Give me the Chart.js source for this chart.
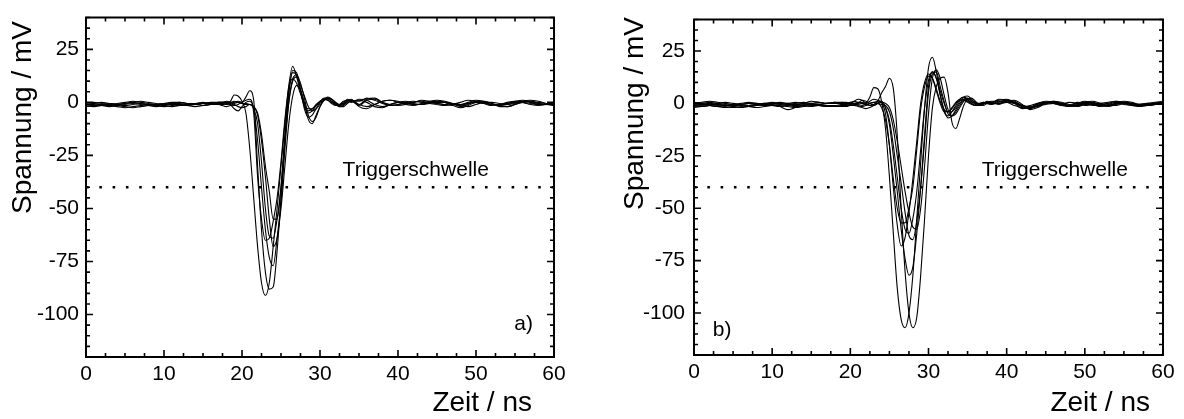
<!DOCTYPE html>
<html><head><meta charset="utf-8">
<script src="https://cdn.jsdelivr.net/npm/chart.js@4.4.1/dist/chart.umd.min.js"></script>
<style>
html,body{margin:0;padding:0;background:#fff;overflow:hidden;}
#wrap{position:relative;width:1184px;height:419px;background:#fff;}
canvas{position:absolute;top:0;}
#cA{left:0px} #cB{left:592px}
</style></head><body>
<div id="wrap"><canvas id="cA" width="592" height="419"></canvas><canvas id="cB" width="592" height="419"></canvas></div>
<script>
// ---------- data ----------
const xTickValues = [0, 10, 20, 30, 40, 50, 60];
const yTickValues = [-100, -75, -50, -25, 0, 25];
const triggerLevel = -40;

// panel a) sample times (ns)
const timeA = [0,1,2,3,4,5,6,7,8,9,10,11,12,13,14,15,16,17,
  17.5,18,18.5,19,19.5,20,20.5,21,21.5,22,22.5,23,23.5,24,24.5,25,25.5,26,26.5,27,27.5,28,28.5,29,29.5,30,30.5,31,31.5,32,32.5,33,33.5,34,
  35,36,37,38,39,40,41,42,43,44,45,46,47,48,49,50,51,52,53,54,55,56,57,58,59,60];
const waveA1 = [-1,-1.5,-1,-0.5,-1,-1.5,-1,-0.5,-1,-1,-0.5,-1,-1.5,-1,-0.5,-0.5,-1,-0.5,
  -0.5,0,0.5,3.5,3,0.5,-5,-22,-45,-68,-85,-91,-85,-68,-50,-30,-10,8,17,12,5,-2,-5,-4,-1.5,0.5,1.5,1,-0.5,-1.5,-1,0.5,1,0,
  1.5,1,-1,-2,-1,0,0.5,-0.5,-1,0,0.5,0,-1,-1.5,-0.5,0.5,0,-1,-1.5,-1,0,0.5,0,-0.5,-1,-0.5];
const waveA2 = [-1.5,-2,-1.5,-1,-1.5,-2,-2.5,-2,-1.5,-1,-1.5,-2,-1.5,-1,-1,-1.5,-1,-0.5,
  -0.5,-1,-0.5,0,0.5,0,2.5,5.5,1,-30,-60,-80,-88,-87,-70,-45,-18,4,15,14,6,-3,-7,-6,-3,0,2,2,0.5,-1,-1.5,-0.5,1.5,1,
  -1,1.5,2,0,-1.5,-1,0,0.5,0,-0.5,-1,-1.5,-1,0,1,0.5,-0.5,-1,-1,-0.5,0.5,1,0,-1,-1,0];
const waveA3 = [-0.5,0,-0.5,-1,-0.5,0,0.5,0,-0.5,-1,-0.5,0,0,-0.5,-0.5,0,-0.5,0,
  0,0,-1,-3,-4,-2,0,0.5,-3,-18,-40,-60,-73,-77,-64,-47,-22,0,11,13,9,2,-6,-9,-7,-2,1,2,1.5,0,-1.5,-1,0.5,1.5,
  -2,-3,-1,0.5,1,0,-1,-1.5,-0.5,0.5,1,0.5,-0.5,-2,-1,0.5,0.5,-0.5,-1.5,-2,-1,0,0.5,0,-0.5,-1];
const waveA4 = [-1,-0.5,0,-0.5,-1,-0.5,0,0.5,0,-0.5,-1,-0.5,0,-0.5,-1,-0.5,0,0,
  0,-0.5,-1,-1.5,-1,0,1,1.5,-5,-35,-55,-65,-64,-56,-45,-28,-8,7,11,9,4,-1,-3,-3,-1,0.5,1.5,1,0,-1,-1,0,1,0.5,
  0.5,2,1,-0.5,-1.5,-1,-0.5,0,1,0.5,-0.5,-1,-1.5,-2.5,-1.5,0,0,-1,-1,-0.5,0,0,-0.5,-1,-1,-1];
const waveA5 = [-2,-1.5,-1,-1.5,-2,-2.5,-2,-1.5,-1,-1.5,-2,-1.5,-1,-1.5,-2,-1.5,-1,-1,
  -1.5,-2,-1.5,-0.5,0,-0.5,-1,-1,-3,-10,-28,-50,-63,-64,-55,-40,-15,5,14,13,6,-1,-4,-3,-1.5,0,1,1.5,0.5,-1,-2,-1.5,0,0.5,
  1,0,-2,-2.5,-1,0,0,-1,-1,-0.5,0,0,-0.5,-1,0,1,0.5,-0.5,-2,-2,-1,0.5,1,0.5,-0.5,-1.5];
const waveA6 = [0,-0.5,-1,-1.5,-1,-0.5,0,-0.5,-1,-1.5,-1,-0.5,-0.5,-1,-1,-0.5,-0.5,0,
  0,0.5,0,-1,-2,-2.5,-2,-1,-2,-5,-15,-30,-42,-55,-55,-40,-18,0,10,12,8,3,-2,-4,-3,-1,1,2,1.5,0,-1,-0.5,0.5,1,
  -1,-2,-1,0.5,1,0.5,-0.5,-1,-1,0,0.5,0,-1,-1,-0.5,0,-0.5,-1.5,-1,0,0.5,0,-1,-1.5,-1,0];
const waveA7 = [-1,-1,-1.5,-2,-1.5,-1,-0.5,-1,-1.5,-2,-1.5,-1,-1,-1.5,-1,-0.5,-1,-1,
  -1,-0.5,0,0.5,0,-0.5,-0.5,-1,-2,-6,-18,-35,-55,-68,-64,-50,-30,-10,3,8,6,0,-8,-10,-6,-2,1,2.5,1.5,-0.5,-2,-2,-0.5,0.5,
  -1.5,1,1.5,0,-1,-1.5,-1,0,0.5,0,-0.5,-1,-0.5,-1,-2,-1,0,0,-0.5,-1,-0.5,0.5,0.5,-0.5,-1,-1.5];

// panel b) sample times (ns)
const timeB = [0,1,2,3,4,5,6,7,8,9,10,11,12,13,14,15,16,17,18,19,
  19.5,20,20.5,21,21.5,22,22.5,23,23.5,24,24.5,25,25.5,26,26.5,27,27.5,28,28.5,29,29.5,30,30.5,31,31.5,32,32.5,33,33.5,34,34.5,35,35.5,36,36.5,37,37.5,38,
  39,40,41,42,43,44,45,46,47,48,49,50,51,52,53,54,55,56,57,58,59,60];
const waveB1 = [-1,-0.5,0,-0.5,-1,-1,-0.5,0,0,-0.5,-1,-0.5,0,0.5,0,-0.5,-0.5,0,0.5,0.5,
  0,0.5,0,-0.5,-1,0,3,7.5,7,1,-12,-35,-62,-88,-103,-107,-100,-82,-55,-28,-2,17,22,15,4,-4,-6,-4,-1,2,3,2,0,-1,-0.5,0.5,0,-0.5,
  1,0.5,-1,-2,-1,0,0.5,0,-0.5,0.5,0,-1,-0.5,0,0.5,1,0,-0.5,-1,-0.5,0,0.5];
const waveB2 = [-1.5,-1,-0.5,-1,-1.5,-2,-1.5,-1,-0.5,0,-0.5,-1.5,-3,-2,-1,-0.5,-1,-1.5,-1.5,-1,
  -1,-0.5,0,0.5,0,-0.5,-1,-0.5,1,5,8,12,7,-15,-50,-80,-100,-107,-102,-82,-55,-25,-2,8,12,12.5,5,-9,-12,-7,-1,2,2.5,1,-0.5,0,0.5,0,
  2,1.5,0,-2.5,-2,0,1,0.5,-1,-1,0.5,0,-1,-0.5,0,1,0.5,-0.5,-1,-0.5,0,0.5];
const waveB3 = [0,0.5,1,0.5,0,-0.5,0,0.5,0,-0.5,0,0.5,0,-0.5,0,1,0.5,0,0,0,
  0,-0.5,-1,0,1.5,1,0,-1,0,1,-2,-10,-25,-42,-60,-74,-82,-78,-62,-40,-15,8,15,12,4,-3,-7,-6,-3,0,2,2.5,1,-0.5,-1,0,1,0.5,
  1.5,2,0.5,-1.5,-2.5,-1,0.5,1,0,-1,0,1,0,-1,-0.5,0.5,0,-1,-0.5,0,-0.5,0];
const waveB4 = [-2,-1.5,-1,-1.5,-2,-1.5,-1,-1.5,-2,-1.5,-1,-1,-1.5,-2,-1.5,-1,-1,-1.5,-1.5,-1,
  -1,-1,-0.5,0,0.5,0,1,2,1.5,0.5,-5,-20,-40,-58,-68,-64,-52,-36,-18,0,10,14,12,6,0,-4,-4,-2,0.5,2,2,1,0,-1,-1,0,0.5,0,
  0,1,0,-1,-1.5,-0.5,0.5,0,-1,-1.5,-1,0,-0.5,-1.5,-1,0,-0.5,-1,-1.5,-1,-0.5,0];
const waveB5 = [-0.5,0,0.5,0,-0.5,-1,-0.5,0,-0.5,-1,-0.5,0,-0.5,-1,-0.5,0,0.5,0,0,0.5,
  0.5,0,-0.5,-1,-1.5,-1,0,0.5,1,0.5,-2,-8,-20,-35,-50,-60,-62,-55,-42,-22,-2,11,15,12,6,0,-4,-4,-2,1,3,3.5,2,0,-1,-0.5,0.5,1,
  1,1.5,1,-1,-2,-1.5,0,1,0.5,-0.5,-1,0.5,1,0,-1,-0.5,0.5,0,-0.5,0,0.5,1];
const waveB6 = [-1,-1.5,-1,-0.5,-1,-1.5,-2,-1.5,-1,-0.5,-1,-1.5,-1,-0.5,-1,-1.5,-1,-1,-1.5,-1.5,
  -1.5,-1,-1,-1.5,-2,-2.5,-2,-1,0,0.5,0,-2,-8,-18,-30,-42,-52,-59,-60,-50,-30,-5,12,16,12,4,-3,-6,-5,-2,1,2,1.5,0.5,-0.5,-1,0,0.5,
  -0.5,1,1.5,-0.5,-3,-2,0,0.5,0,-1,-1.5,-0.5,0,-1,-1.5,-0.5,0.5,0,-1,-1,-0.5,0];
const waveB7 = [0.5,0,-0.5,0,0.5,0,-0.5,-1,-0.5,0,0.5,0,-0.5,0,0.5,0,-0.5,0,0.5,0,
  0,0.5,1,0.5,0,-0.5,0,0.5,0,-0.5,-1,-4,-12,-25,-38,-52,-63,-65,-56,-40,-18,5,14,15,8,1,-5,-6,-4,-1,1.5,1.5,0.5,0,0,0.5,0,-0.5,
  0.5,1.5,0.5,-1,-2,-1,0,0.5,-0.5,-1,-0.5,0.5,0.5,-0.5,-1,0,1,0.5,-0.5,-0.5,0,0.5];
const waveB8 = [-1,-0.5,-1,-1.5,-1,-0.5,-1,-1.5,-1,-0.5,0,-0.5,-1,-1.5,-1,-0.5,-0.5,-1,-1,-0.5,
  -0.5,0,1,2,1.5,0,-1,-0.5,0,-2,-8,-20,-36,-50,-57,-57,-50,-40,-22,-3,8,13,12,7,1,-3,-4,-2.5,0,1.5,1.5,0.5,-0.5,-1,-0.5,0,0.5,0,
  0,0.5,0,-1.5,-2,-1,-0.5,0,-0.5,-1.5,-1,-0.5,0,-0.5,-1,-1,0,0,-1,-1,-0.5,-0.5];

// ---------- rendering ----------
Chart.defaults.font.family = "'Liberation Sans', Arial, Helvetica, sans-serif";
Chart.defaults.color = '#000';

const framePlugin = {
  id: 'frame',
  afterDatasetsDraw(chart, args, o) {
    const {ctx, chartArea: a, scales: {x, y}} = chart;
    ctx.save();
    ctx.strokeStyle = '#000';
    ctx.lineWidth = 2;
    ctx.strokeRect(a.left, a.top, a.right - a.left, a.bottom - a.top);
    ctx.lineWidth = 1.6;
    ctx.beginPath();
    for (let v = x.min; v <= x.max + 1e-6; v += 2.5) {
      const p = x.getPixelForValue(v);
      const len = xTickValues.includes(v) ? 7 : 4;
      ctx.moveTo(p, a.bottom); ctx.lineTo(p, a.bottom - len);
      ctx.moveTo(p, a.top); ctx.lineTo(p, a.top + len);
    }
    for (let v = y.min; v <= y.max + 1e-6; v += 5) {
      const p = y.getPixelForValue(v);
      const len = yTickValues.includes(v) ? 7 : 4;
      ctx.moveTo(a.left, p); ctx.lineTo(a.left + len, p);
      ctx.moveTo(a.right, p); ctx.lineTo(a.right - len, p);
    }
    ctx.stroke();
    ctx.fillStyle = '#000';
    ctx.textBaseline = 'middle';
    ctx.textAlign = 'left';
    ctx.font = "21px 'Liberation Sans', Arial, sans-serif";
    ctx.fillText('Triggerschwelle', x.getPixelForValue(o.trigX), y.getPixelForValue(o.trigY));
    ctx.fillText(o.panel, x.getPixelForValue(o.panelX), y.getPixelForValue(o.panelY));
    ctx.font = "28px 'Liberation Sans', Arial, sans-serif";
    ctx.textAlign = 'right';
    ctx.fillText('Zeit / ns', o.xTitleRight, o.xTitleY);
    ctx.save();
    ctx.translate(o.yTitleX, o.yTitleTop);
    ctx.rotate(-Math.PI / 2);
    ctx.textAlign = 'right';
    ctx.fillText('Spannung / mV', 0, 0);
    ctx.restore();
    ctx.restore();
  }
};

function makeChart(id, time, waves, c) {
  const datasets = waves.map(w => ({
    data: time.map((t, i) => ({x: t, y: w[i]})),
    borderColor: '#000', borderWidth: 1.1, pointRadius: 0,
    cubicInterpolationMode: 'monotone', fill: false
  }));
  datasets.push({
    data: [{x: 0, y: triggerLevel}, {x: 60, y: triggerLevel}],
    borderColor: '#000', borderWidth: 2.6, borderDash: [2.6, 10.7],
    pointRadius: 0, fill: false
  });
  return new Chart(document.getElementById(id), {
    type: 'line',
    data: {datasets},
    plugins: [framePlugin],
    options: {
      responsive: false, animation: false, devicePixelRatio: 1,
      layout: {padding: {top: c.top, right: c.right, left: 0, bottom: 0}},
      plugins: {legend: {display: false}, tooltip: {enabled: false}, frame: c.frame},
      scales: {
        x: {
          type: 'linear', min: 0, max: 60,
          afterBuildTicks: s => { s.ticks = xTickValues.map(v => ({value: v})); },
          afterFit: s => { s.height = c.xHeight; },
          ticks: {font: {size: 21, lineHeight: 1}, color: '#000', padding: 7, maxRotation: 0, autoSkip: false},
          grid: {display: false, drawTicks: false},
          border: {display: false}
        },
        y: {
          type: 'linear', min: -120, max: 40,
          afterBuildTicks: s => { s.ticks = yTickValues.map(v => ({value: v})); },
          afterFit: s => { s.width = c.yWidth; },
          ticks: {font: {size: 21, lineHeight: 1}, color: '#000', padding: c.yPad, autoSkip: false},
          grid: {display: false, drawTicks: false},
          border: {display: false}
        }
      }
    }
  });
}

makeChart('cA', timeA, [waveA1, waveA2, waveA3, waveA4, waveA5, waveA6, waveA7], {
  top: 13, right: 38, xHeight: 62, yWidth: 86, yPad: 7,
  frame: {trigX: 32.9, trigY: -32, panel: 'a)', panelX: 54.9, panelY: -104.5,
          xTitleRight: 532, xTitleY: 403, yTitleX: 23, yTitleTop: 21}
});
makeChart('cB', timeB, [waveB1, waveB2, waveB3, waveB4, waveB5, waveB6, waveB7, waveB8], {
  top: 11, right: 21, xHeight: 64, yWidth: 102, yPad: 9,
  frame: {trigX: 36.8, trigY: -31.8, panel: 'b)', panelX: 2.4, panelY: -108,
          xTitleRight: 558, xTitleY: 403, yTitleX: 43, yTitleTop: 17}
});
</script>
</body></html>
